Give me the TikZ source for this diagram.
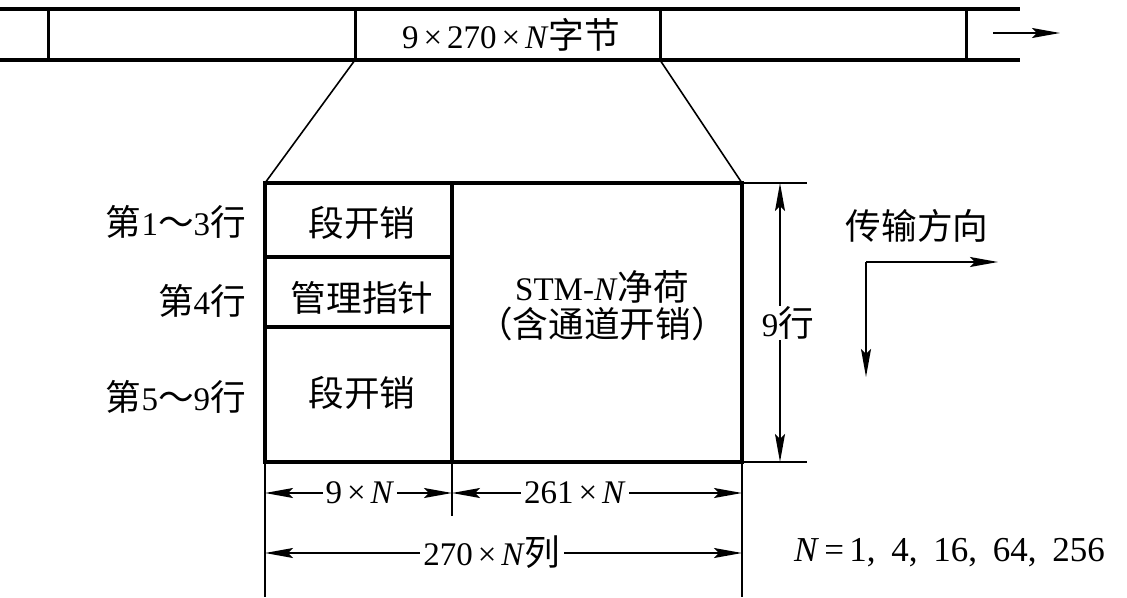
\documentclass[tikz,border=0pt]{standalone}
\usepackage{fontspec}
\setmainfont{Liberation Serif}
\newfontfamily\cjk[Scale=1.08]{Noto Sans CJK SC}
\usetikzlibrary{arrows.meta}
\newcommand{\tms}{\hspace{0.15em}×\hspace{0.15em}}
\begin{document}
\begin{tikzpicture}[x=1pt,y=-1pt,
  every node/.style={font=\fontsize{33}{36}\selectfont, inner sep=2pt},
  thickline/.style={line width=4pt},
  midline/.style={line width=3pt},
  thinline/.style={line width=1.6pt},
  tip/.style={-{Stealth[length=28pt,width=10pt,inset=5pt]}},
  dtip/.style={{Stealth[length=28pt,width=10pt,inset=5pt]}-{Stealth[length=28pt,width=10pt,inset=5pt]}},
  lbl/.style={fill=white, inner xsep=3pt, inner ysep=1pt}]
\useasboundingbox (0,0) rectangle (1127,597);
% top band
\coordinate (tl) at (0,9); \coordinate (tr) at (1020,9);
\coordinate (bl) at (0,60); \coordinate (br) at (1020,60);
\draw[thickline] (tl) -- (tr);
\draw[thickline] (bl) -- (br);
\foreach \x/\n in {48/a,355/b,660/c,966/d}{
  \coordinate (t\n) at (\x,9); \coordinate (b\n) at (\x,60);
  \draw[midline] (t\n) -- (b\n);}
\node (frame) at (511,35) {9\tms270\tms\textit{N}{\cjk 字节}};
\coordinate (fa) at (993,33); \coordinate (fb) at (1060,33);
\draw[thinline,tip] (fa) -- (fb);
% box
\coordinate (B1) at (265,183); \coordinate (B2) at (742,183);
\coordinate (B3) at (742,462); \coordinate (B4) at (265,462);
\coordinate (D1) at (452,183); \coordinate (D2) at (452,462);
\draw[thinline] (bb) -- (B1);
\draw[thinline] (bc) -- (B2);
\draw[thickline] (B1) -- (B2) -- (B3) -- (B4) -- cycle;
\draw[thickline] (D1) -- (D2);
\coordinate (h1a) at (265,257); \coordinate (h1b) at (452,257);
\coordinate (h2a) at (265,327); \coordinate (h2b) at (452,327);
\draw[thickline] (h1a) -- (h1b);
\draw[thickline] (h2a) -- (h2b);
\node (s1) at (362,223) {\cjk 段开销};
\node (ptr) at (362,298) {\cjk 管理指针};
\node (s2) at (362,393) {\cjk 段开销};
\node[align=center, font=\fontsize{33}{37}\selectfont] (pay) at (602,306)
  {STM-\textit{N}{\cjk 净荷}\\{\cjk （含通道开销）}};
% row labels
\node[anchor=east] (r1) at (248,222) {{\cjk 第}1{\cjk ～}3{\cjk 行}};
\node[anchor=east] (r4) at (248,301) {{\cjk 第}4{\cjk 行}};
\node[anchor=east] (r5) at (248,397) {{\cjk 第}5{\cjk ～}9{\cjk 行}};
% 9 rows dimension
\coordinate (e1) at (807,183); \coordinate (e2) at (807,462);
\draw[thinline] (B2) -- (e1);
\draw[thinline] (B3) -- (e2);
\coordinate (v1) at (780,183); \coordinate (v2) at (780,462);
\draw[thinline,dtip] (v1) -- (v2);
\node[lbl] (nine) at (788,323) {9{\cjk 行}};
% direction
\node (dir) at (917,226) {\cjk 传输方向};
\coordinate (dc) at (866,262); \coordinate (dr) at (998,262); \coordinate (dd) at (866,377);
\draw[thinline,tip] (dc) -- (dr);
\draw[thinline,tip] (dc) -- (dd);
% bottom dimensions
\coordinate (x1) at (265,597); \coordinate (x2) at (452,516); \coordinate (x3) at (742,597);
\draw[thinline] (B4) -- (x1);
\draw[thinline] (D2) -- (x2);
\draw[thinline] (B3) -- (x3);
\coordinate (m1) at (265,493); \coordinate (m2) at (452,493); \coordinate (m3) at (742,493);
\draw[thinline,dtip] (m1) -- (m2);
\draw[thinline,dtip] (m2) -- (m3);
\node[lbl] (w9) at (360,493) {9\tms\textit{N}};
\node[lbl] (w261) at (575,493) {261\tms\textit{N}};
\coordinate (n1) at (265,553); \coordinate (n3) at (742,553);
\draw[thinline,dtip] (n1) -- (n3);
\node[lbl] (w270) at (492,552) {270\tms\textit{N}{\cjk 列}};
\node[anchor=west, font=\fontsize{35}{38}\selectfont] (nval) at (792,553) {\textit{N}\hspace{0.15em}=\hspace{0.15em}1,\hspace{0.45em}4,\hspace{0.45em}16,\hspace{0.45em}64,\hspace{0.45em}256};
\end{tikzpicture}
\end{document}
